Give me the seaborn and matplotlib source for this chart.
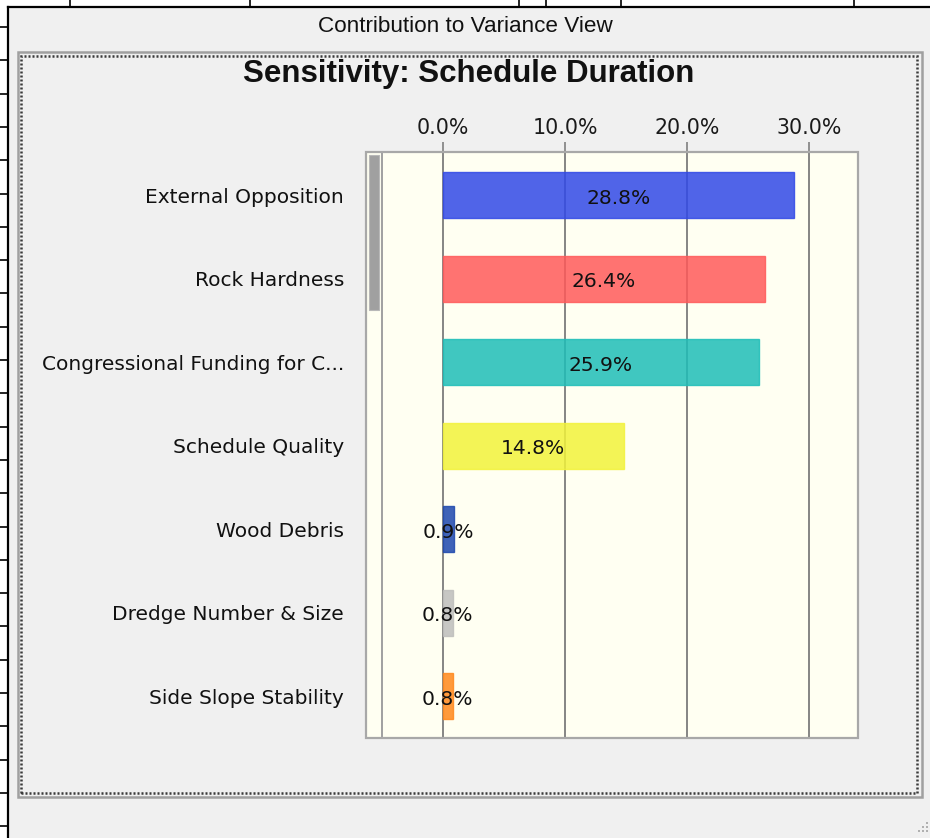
import matplotlib
matplotlib.use("Agg")
import matplotlib.pyplot as plt
from matplotlib.patches import Rectangle
from matplotlib.lines import Line2D
import seaborn as sns
import pandas as pd

# Contribution to variance of schedule duration, per input factor
factors = [
    "External Opposition",
    "Rock Hardness",
    "Congressional Funding for C...",
    "Schedule Quality",
    "Wood Debris",
    "Dredge Number & Size",
    "Side Slope Stability",
]
contribution = [28.8, 26.4, 25.9, 14.8, 0.9, 0.8, 0.8]
bar_colors = ["#3149E7", "#FF5A5A", "#1EBEB8", "#F2F33B", "#1D48AE", "#BEBEBC", "#FF881C"]
tick_values = [0, 10, 20, 30]
tick_labels = ["0.0%", "10.0%", "20.0%", "30.0%"]
window_title = "Contribution to Variance View"
chart_title = "Sensitivity: Schedule Duration"

W, H = 930, 838
fig = plt.figure(figsize=(W / 100, H / 100), dpi=100, facecolor="white")


def fx(x):
    return x / W


def fy(y):
    return 1 - y / H


def rect(x0, y0, x1, y1, **kw):
    r = Rectangle((fx(x0), fy(y1)), (x1 - x0) / W, (y1 - y0) / H,
                  transform=fig.transFigure, **kw)
    fig.add_artist(r)
    return r


def seg(x0, y0, x1, y1, **kw):
    fig.add_artist(Line2D([fx(x0), fx(x1)], [fy(y0), fy(y1)],
                          transform=fig.transFigure, **kw))


# spreadsheet grid peeking out behind the window
for k in range(26):
    y = 27 + 33.3 * k
    seg(0, y, 8, y, color="black", lw=1.2, zorder=-3)
for x in [70, 250, 519, 546, 621, 854]:
    seg(x, 0, x, 7, color="black", lw=1.2, zorder=-3)

# window body
rect(8, 7, 932, 840, facecolor="#F0F0F0", edgecolor="none", zorder=-2)
seg(8, 7, 8, 838, color="black", lw=1.6, zorder=-1)
seg(8, 7, 930, 7, color="black", lw=1.6, zorder=-1)

# chart panel frame with dotted focus border
rect(18, 52, 922, 797, fill=False, edgecolor="#A0A0A0", lw=1.8, zorder=-1)
rect(21, 56, 917, 793, fill=False, edgecolor="#3A3A3A", lw=1.8,
     linestyle=(0, (0.8, 0.8)), zorder=-1)

# resize grip in the bottom-right corner
for gx, gy in [(926, 822), (922, 826), (926, 826), (918, 830), (922, 830), (926, 830)]:
    rect(gx, gy, gx + 2, gy + 2, facecolor="#B0B0B0", edgecolor="none", zorder=-1)

# plot area background (includes scrollbar strip)
rect(366, 152, 858, 738, facecolor="#FFFFF2", edgecolor="none", zorder=-1)

fig.text(fx(465), fy(27), window_title, ha="center", va="center",
         fontsize=16.2, family="Liberation Sans", color="#111111")
fig.text(fx(469), fy(74), chart_title, ha="center", va="center",
         fontsize=22.5, family="Liberation Sans", fontweight="bold", color="#111111")

ax = fig.add_axes([fx(382), fy(738), (858 - 382) / W, (738 - 152) / H])
ax.set_facecolor("none")

df = pd.DataFrame({"factor": factors, "contribution": contribution})
sns.barplot(data=df, x="contribution", y="factor", hue="factor",
            palette=bar_colors, legend=False, width=0.55, saturation=1,
            alpha=0.85, orient="h", ax=ax)

for p, c in zip(ax.patches, bar_colors):
    p.set_edgecolor(c)
    p.set_linewidth(1.0)

# value labels centred in each bar, nudged slightly down
for cont in ax.containers:
    texts = ax.bar_label(cont, fmt="%.1f%%", label_type="center",
                         fontsize=14.6, color="#111111")
    for t in texts:
        t.xyann = (0, -2.3)

ax.set_xlim(-5.0, 34.02)
ax.set_ylim(6.5, -0.515)
ax.set_xticks(tick_values, tick_labels)
ax.xaxis.tick_top()
ax.tick_params(axis="x", top=True, bottom=False, length=7.2, width=1.2,
               color="#808080", pad=2.8, labelsize=14.8, labelcolor="#1a1a1a")
ax.tick_params(axis="y", length=0, pad=27.4, labelsize=14.5, labelcolor="#111111")
ax.set_xlabel("")
ax.set_ylabel("")
ax.grid(axis="x", color="#858585", lw=1.4)
ax.grid(axis="y", visible=False)
ax.set_axisbelow(True)
for side in ["top", "right", "bottom"]:
    ax.spines[side].set_visible(False)
ax.spines["left"].set_color("#A0A0A0")
ax.spines["left"].set_linewidth(1.4)

# scrollbar thumb and plot frame
rect(369, 155, 379, 310, facecolor="#A0A0A0", edgecolor="#B8B8B8", lw=0.8, zorder=3)
rect(366, 152, 858, 738, fill=False, edgecolor="#A8A8A8", lw=1.6, zorder=3)

fig.savefig("out.png", dpi=100, facecolor=fig.get_facecolor())
